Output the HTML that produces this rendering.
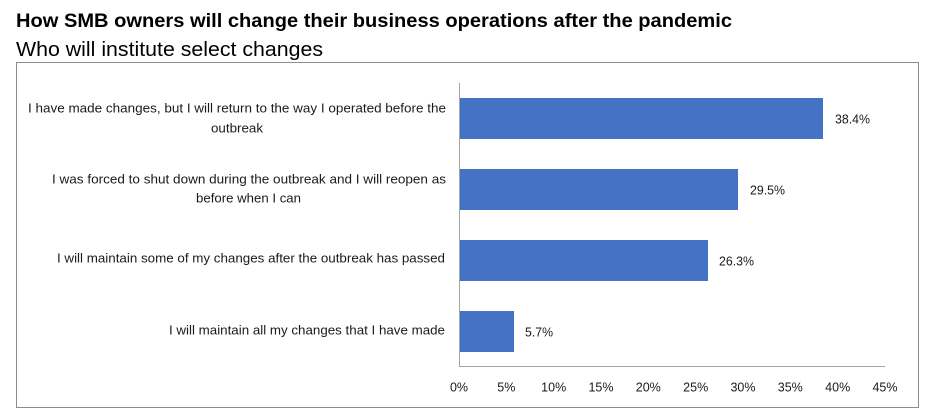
<!DOCTYPE html>
<html><head><meta charset="utf-8"><style>
html,body{margin:0;padding:0;background:#fff;}
svg{display:block;}
text{font-family:"Liberation Sans",sans-serif;}
</style></head><body>
<svg width="936" height="420" viewBox="0 0 936 420" xmlns="http://www.w3.org/2000/svg">
<rect x="0" y="0" width="936" height="420" fill="#fff"/>
<text x="16" y="27" font-size="19" font-weight="bold" fill="#000" textLength="716" lengthAdjust="spacingAndGlyphs">How SMB owners will change their business operations after the pandemic</text>
<text x="16" y="56" font-size="20.5" fill="#000" textLength="307" lengthAdjust="spacingAndGlyphs">Who will institute select changes</text>
<rect x="16.5" y="62.5" width="902" height="345" fill="none" stroke="#8c8c8c" stroke-width="1"/>
<g fill="#4472C4">
<rect x="459" y="98" width="364" height="41"/>
<rect x="459" y="169" width="279" height="41"/>
<rect x="459" y="240" width="249" height="41"/>
<rect x="459" y="311" width="55" height="41"/>
</g>
<line x1="459.5" y1="83" x2="459.5" y2="366" stroke="#a6a6a6" stroke-width="1"/>
<line x1="459" y1="366.5" x2="885" y2="366.5" stroke="#a6a6a6" stroke-width="1"/>
<g font-size="12.5" fill="#1a1a1a">
<text x="835" y="123.5" textLength="35" lengthAdjust="spacingAndGlyphs">38.4%</text>
<text x="750" y="194.5" textLength="35" lengthAdjust="spacingAndGlyphs">29.5%</text>
<text x="719" y="265.5" textLength="35" lengthAdjust="spacingAndGlyphs">26.3%</text>
<text x="525" y="336.5" textLength="28" lengthAdjust="spacingAndGlyphs">5.7%</text>
</g>
<g font-size="13" fill="#1a1a1a">
<text x="28" y="112.5" textLength="418" lengthAdjust="spacingAndGlyphs">I have made changes, but I will return to the way I operated before the</text>
<text x="211" y="132.5" textLength="52" lengthAdjust="spacingAndGlyphs">outbreak</text>
<text x="52" y="183.5" textLength="394" lengthAdjust="spacingAndGlyphs">I was forced to shut down during the outbreak and I will reopen as</text>
<text x="196" y="202.5" textLength="105" lengthAdjust="spacingAndGlyphs">before when I can</text>
<text x="57" y="262.5" textLength="388" lengthAdjust="spacingAndGlyphs">I will maintain some of my changes after the outbreak has passed</text>
<text x="169" y="334.5" textLength="276" lengthAdjust="spacingAndGlyphs">I will maintain all my changes that I have made</text>
</g>
<g font-size="12.5" fill="#1a1a1a" text-anchor="middle">
<text x="459" y="391.5">0%</text>
<text x="506.3" y="391.5">5%</text>
<text x="553.7" y="391.5">10%</text>
<text x="601" y="391.5">15%</text>
<text x="648.3" y="391.5">20%</text>
<text x="695.7" y="391.5">25%</text>
<text x="743" y="391.5">30%</text>
<text x="790.3" y="391.5">35%</text>
<text x="837.7" y="391.5">40%</text>
<text x="885" y="391.5">45%</text>
</g>
</svg>
</body></html>
